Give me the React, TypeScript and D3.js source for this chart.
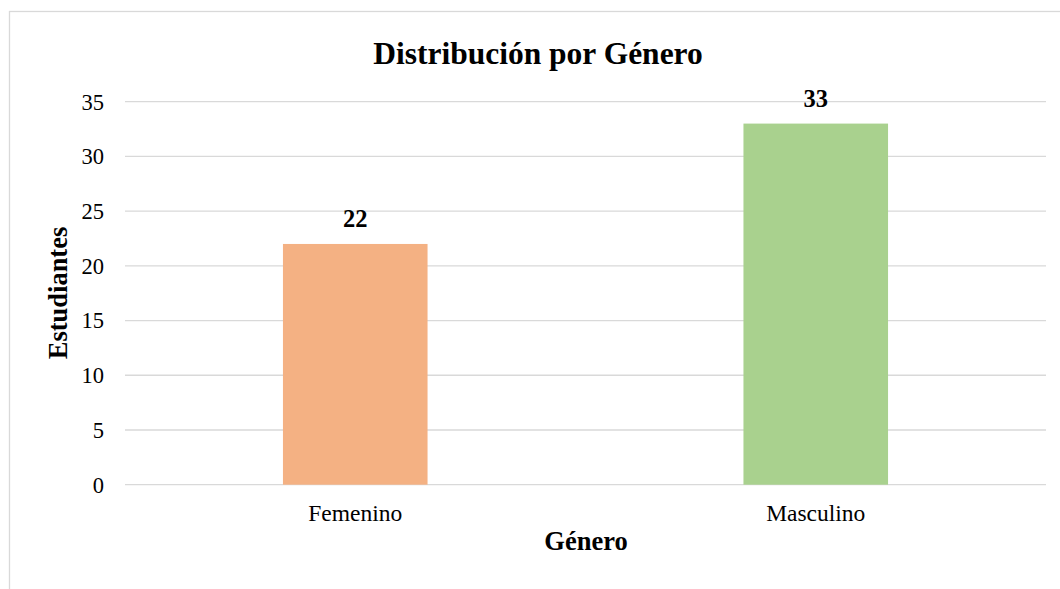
import React from 'react'
import * as d3 from 'd3'

const categories = ['Femenino', 'Masculino']
const students = [22, 33]
const barColors = ['#F4B183', '#A9D18E']
const yTicks = [0, 5, 10, 15, 20, 25, 30, 35]

const W = 1060
const H = 589
const left = 125
const right = 1046
const top = 101.7
const bottom = 484.7
const font = '"Liberation Serif", "Times New Roman", serif'

export default function App() {
	const x = d3
		.scaleBand()
		.domain(categories)
		.range([left, right])
		.paddingInner(0.686)
		.paddingOuter(0.343)

	const y = d3.scaleLinear().domain([0, 35]).range([bottom, top])

	return (
		<svg
			width={W}
			height={H}
			style={{ position: 'absolute', left: 0, top: 0, background: '#fff' }}
			fontFamily={font}
		>
			<rect x={9.5} y={11.5} width={W + 20} height={H + 20} fill="#fff" stroke="#D9D9D9" strokeWidth={1.3} />

			<text x={538} y={64} textAnchor="middle" fontSize={31.5} fontWeight="bold">
				Distribución por Género
			</text>

			{/* grid + y ticks */}
			{yTicks.map((t) => (
				<g key={t}>
					<line x1={left} x2={right} y1={y(t)} y2={y(t)} stroke="#D9D9D9" strokeWidth={1.3} />
					<text x={104} y={y(t)} dy="0.35em" textAnchor="end" fontSize={22.5}>
						{t}
					</text>
				</g>
			))}

			{/* bars */}
			{categories.map((c, i) => (
				<g key={c}>
					<rect
						x={x(c)}
						y={y(students[i])}
						width={x.bandwidth()}
						height={bottom - y(students[i])}
						fill={barColors[i]}
					/>
					<text
						x={(x(c) as number) + x.bandwidth() / 2}
						y={y(students[i]) - 17}
						textAnchor="middle"
						fontSize={24.5}
						fontWeight="bold"
					>
						{students[i]}
					</text>
					<text
						x={(x(c) as number) + x.bandwidth() / 2}
						y={521}
						textAnchor="middle"
						fontSize={23.5}
					>
						{c}
					</text>
				</g>
			))}

			<text x={586} y={550} textAnchor="middle" fontSize={26.5} fontWeight="bold">
				Género
			</text>
			<text
				transform={`translate(67, ${293}) rotate(-90)`}
				textAnchor="middle"
				fontSize={26.5}
				fontWeight="bold"
			>
				Estudiantes
			</text>
		</svg>
	)
}
